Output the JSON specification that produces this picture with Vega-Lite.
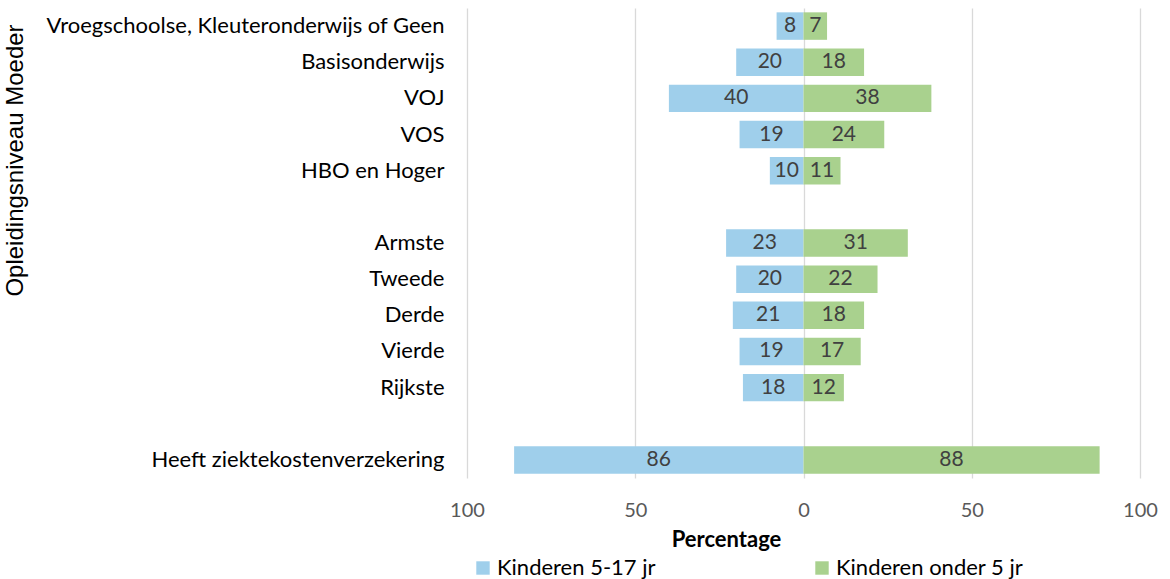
{
  "$schema": "https://vega.github.io/schema/vega-lite/v6.json",
  "width": 673,
  "height": 470,
  "autosize": {"type": "none"},
  "padding": {"left": 467, "top": 8, "right": 30, "bottom": 101},
  "background": "white",
  "config": {"view": {"stroke": null}, "font": "Lato"},
  "data": {"values": [
    {"cat": "Vroegschoolse, Kleuteronderwijs of Geen", "grp": "Kinderen 5-17 jr", "x": -8, "pct": 8},
    {"cat": "Vroegschoolse, Kleuteronderwijs of Geen", "grp": "Kinderen onder 5 jr", "x": 7, "pct": 7},
    {"cat": "Basisonderwijs", "grp": "Kinderen 5-17 jr", "x": -20, "pct": 20},
    {"cat": "Basisonderwijs", "grp": "Kinderen onder 5 jr", "x": 18, "pct": 18},
    {"cat": "VOJ", "grp": "Kinderen 5-17 jr", "x": -40, "pct": 40},
    {"cat": "VOJ", "grp": "Kinderen onder 5 jr", "x": 38, "pct": 38},
    {"cat": "VOS", "grp": "Kinderen 5-17 jr", "x": -19, "pct": 19},
    {"cat": "VOS", "grp": "Kinderen onder 5 jr", "x": 24, "pct": 24},
    {"cat": "HBO en Hoger", "grp": "Kinderen 5-17 jr", "x": -10, "pct": 10},
    {"cat": "HBO en Hoger", "grp": "Kinderen onder 5 jr", "x": 11, "pct": 11},
    {"cat": "Armste", "grp": "Kinderen 5-17 jr", "x": -23, "pct": 23},
    {"cat": "Armste", "grp": "Kinderen onder 5 jr", "x": 31, "pct": 31},
    {"cat": "Tweede", "grp": "Kinderen 5-17 jr", "x": -20, "pct": 20},
    {"cat": "Tweede", "grp": "Kinderen onder 5 jr", "x": 22, "pct": 22},
    {"cat": "Derde", "grp": "Kinderen 5-17 jr", "x": -21, "pct": 21},
    {"cat": "Derde", "grp": "Kinderen onder 5 jr", "x": 18, "pct": 18},
    {"cat": "Vierde", "grp": "Kinderen 5-17 jr", "x": -19, "pct": 19},
    {"cat": "Vierde", "grp": "Kinderen onder 5 jr", "x": 17, "pct": 17},
    {"cat": "Rijkste", "grp": "Kinderen 5-17 jr", "x": -18, "pct": 18},
    {"cat": "Rijkste", "grp": "Kinderen onder 5 jr", "x": 12, "pct": 12},
    {"cat": "Heeft ziektekostenverzekering", "grp": "Kinderen 5-17 jr", "x": -86, "pct": 86},
    {"cat": "Heeft ziektekostenverzekering", "grp": "Kinderen onder 5 jr", "x": 88, "pct": 88}
  ]},
  "encoding": {
    "y": {
      "field": "cat", "type": "nominal",
      "scale": {
        "domain": ["Vroegschoolse, Kleuteronderwijs of Geen", "Basisonderwijs", "VOJ", "VOS", "HBO en Hoger", "gap1", "Armste", "Tweede", "Derde", "Vierde", "Rijkste", "gap2", "Heeft ziektekostenverzekering"],
        "paddingInner": 0.24, "paddingOuter": 0.12
      },
      "axis": {
        "title": "Opleidingsniveau Moeder",
        "titleFont": "Liberation Sans", "titleFontSize": 24, "titleFontWeight": "normal", "titleColor": "#000000",
        "titleAngle": -90, "titleX": -452, "titleY": 152, "titleAlign": "center", "titleBaseline": "middle",
        "labelExpr": "indexof(datum.value, 'gap') == 0 ? '' : datum.value",
        "labelFontSize": 22, "labelColor": "#000000", "labelPadding": 23, "labelLimit": 500,
        "ticks": false, "domain": false, "grid": false
      }
    },
    "x": {
      "field": "x", "type": "quantitative",
      "scale": {"domain": [-100, 100], "nice": false},
      "axis": {
        "title": "Percentage", "titleFontSize": 22, "titleFontWeight": "bold", "titleColor": "#000000", "titlePadding": 9,
        "titleX": 259, "titleAlign": "center",
        "values": [-100, -50, 0, 50, 100],
        "labelExpr": "abs(datum.value)", "labelFlush": false,
        "labelFontSize": 20, "labelColor": "#595959", "labelPadding": 22,
        "ticks": false, "domain": false,
        "grid": true, "gridColor": "#d9d9d9", "gridWidth": 1.3
      }
    }
  },
  "layer": [
    {
      "mark": {"type": "bar"},
      "encoding": {
        "color": {
          "field": "grp", "type": "nominal",
          "scale": {"domain": ["Kinderen 5-17 jr", "Kinderen onder 5 jr"], "range": ["#9fcfeb", "#a9d18e"]},
          "legend": {
            "title": null, "orient": "none", "direction": "horizontal", "columns": 2,
            "legendX": 5, "legendY": 549,
            "symbolType": "square", "symbolSize": 180, "symbolStrokeWidth": 0, "symbolOpacity": 1,
            "labelFontSize": 22, "labelColor": "#000000", "labelLimit": 400, "columnPadding": 155, "labelOffset": 3
          }
        }
      }
    },
    {
      "transform": [{"calculate": "datum.x / 2", "as": "mid"}],
      "mark": {"type": "text", "fontSize": 21, "color": "#404040"},
      "encoding": {
        "x": {"field": "mid", "type": "quantitative"},
        "text": {"field": "pct", "type": "quantitative"}
      }
    }
  ]
}
